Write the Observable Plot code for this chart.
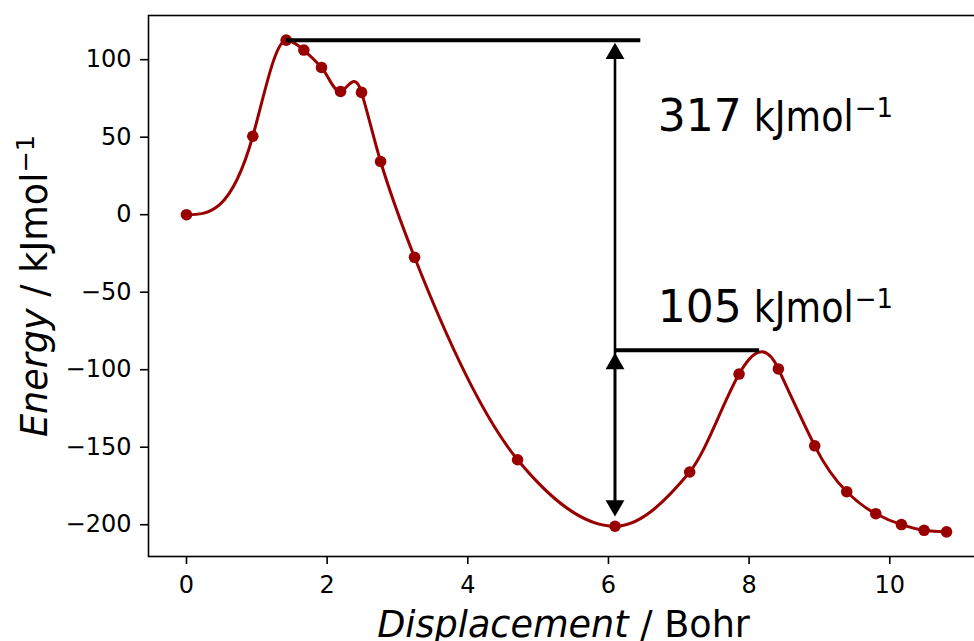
<!DOCTYPE html>
<html><head><meta charset="utf-8">
<script src="https://cdn.jsdelivr.net/npm/d3@7"></script>
<script src="https://cdn.jsdelivr.net/npm/@observablehq/plot@0.6"></script>
<style>
html,body{margin:0;padding:0;background:#fff;}
#chart svg{display:block;}
</style>
</head><body><div id="chart"></div>
<script>
// ---- data ----
const displacement = [0, 0.943, 1.418, 1.669, 1.920, 2.191, 2.489, 2.760, 3.243, 4.708, 6.093, 7.155, 7.857, 8.416, 8.933, 9.388, 9.801, 10.166, 10.488, 10.807];
const energy = [0, 50.6, 112.6, 106.2, 95.0, 79.5, 78.9, 34.3, -27.5, -158.1, -201.0, -166.0, -102.8, -99.5, -149.1, -178.7, -192.9, -199.9, -203.6, -204.6];
// tangent slope dE/dx (kJ/mol per Bohr) of the drawn curve at each image
const slope = [0, 160, 0, -40, -50, 10, -150, -150, -115, -55, 0, 55, 80, -98, -90, -45, -24, -14, -7, -3];
const xTicks = [0, 2, 4, 6, 8, 10];
const yTicks = [-200, -150, -100, -50, 0, 50, 100];

// annotation values (data units)
const levelX1 = [1.418, 6.093];
const levelX2 = [6.46, 8.15];
const levelY = [112.6, -87.5];
const arrowX = 6.093;
const arrowBottom = -201.0;
const arrowTops = [112.6, -87.5];
const barrierValues = ["317", "105"];
const barrierLabelX = 6.70;
const barrierLabelY = [53.8, -69.5];
const unitText = "kJmol";
const unitSup = "\u22121";
const xLabelItalic = "Displacement";
const xLabelRest = " / Bohr";
const yLabelItalic = "Energy";
const yLabelRest = " / kJmol";

// ---- tables built from the arrays ----
const points = displacement.map((x, i) => ({x, y: energy[i]}));
const levels = levelY.map((y, i) => ({x1: levelX1[i], x2: levelX2[i], y}));
const spans = arrowTops.map(t => ({x: arrowX, top: t, bottom: arrowBottom}));
const headsUp = arrowTops.map(t => ({x: arrowX, y: t}));
const headsDown = [{x: arrowX, y: arrowBottom}];
const labels = barrierValues.map((v, i) => ({x: barrierLabelX, y: barrierLabelY[i], value: v}));

// cubic Hermite curve through the images using the tangent slopes above
function hermiteCurve(context) {
  let xs, ys;
  return {
    areaStart() {}, areaEnd() {},
    lineStart() { xs = []; ys = []; },
    point(x, y) { xs.push(+x); ys.push(+y); },
    lineEnd() {
      const n = xs.length;
      if (!n) return;
      context.moveTo(xs[0], ys[0]);
      // pixel-per-unit factors derived from the projected points themselves
      const ax = (xs[n - 1] - xs[0]) / (displacement[n - 1] - displacement[0]);
      let j = 1; while (j < n - 1 && energy[j] === energy[0]) j++;
      const ay = (ys[j] - ys[0]) / (energy[j] - energy[0]);
      const k = slope.map(s => s * ay / ax);
      for (let i = 0; i < n - 1; i++) {
        const h = xs[i + 1] - xs[i];
        context.bezierCurveTo(xs[i] + h / 3, ys[i] + k[i] * h / 3,
                              xs[i + 1] - h / 3, ys[i + 1] - k[i + 1] * h / 3,
                              xs[i + 1], ys[i + 1]);
      }
    }
  };
}

const red = "#990000";
const font = "DejaVu Sans";

const chart = Plot.plot({
  width: 974,
  height: 641,
  marginLeft: 148,
  marginTop: 15,
  marginBottom: 85,
  marginRight: -10,
  x: {domain: [-0.54, 11.347]},
  y: {domain: [-220.5, 128.5]},
  style: {fontFamily: font, fontSize: "24px", color: "black", background: "white", overflow: "hidden"},
  marks: [
    Plot.axisX({ticks: xTicks, tickSize: 8, tickPadding: 11, fontSize: 24, label: null, strokeWidth: 1.6}),
    Plot.axisY({ticks: yTicks, tickSize: 8, tickPadding: 9, fontSize: 24, label: null, strokeWidth: 1.6}),
    Plot.line(points, {x: "x", y: "y", curve: hermiteCurve, stroke: red, strokeWidth: 3}),
    Plot.dot(points, {x: "x", y: "y", r: 5.8, fill: red, stroke: "none"}),
    Plot.ruleY(levels, {y: "y", x1: "x1", x2: "x2", stroke: "black", strokeWidth: 4}),
    Plot.ruleX(spans, {x: "x", y1: "top", y2: "bottom", stroke: "black", strokeWidth: 2.6, insetTop: 12, insetBottom: 15}),
    Plot.dot(headsUp, {x: "x", y: "y", symbol: "triangle", r: 7, fill: "black", stroke: "none", dy: 13.4}),
    Plot.dot(headsDown, {x: "x", y: "y", symbol: "triangle", r: 7, rotate: 180, fill: "black", stroke: "none", dy: -20.6}),
    Plot.text(labels, {x: "x", y: "y", text: "value", textAnchor: "start", lineAnchor: "bottom", fontSize: 44, fill: "black"}),
    Plot.text(labels, {x: "x", y: "y", text: () => unitText, dx: 96, textAnchor: "start", lineAnchor: "bottom", fontSize: 42, fill: "black", className: "unit-text"}),
    Plot.text(labels, {x: "x", y: "y", text: () => unitSup, dx: 197, dy: -14, textAnchor: "start", lineAnchor: "bottom", fontSize: 26, fill: "black"}),
    Plot.text([xLabelItalic + xLabelRest], {text: d => d, frameAnchor: "bottom", textAnchor: "middle", dy: 80.7, dx: -3, lineAnchor: "bottom", fontSize: 36.6, fill: "black", className: "x-label"}),
    Plot.text([yLabelItalic + yLabelRest + unitSup], {text: d => d, frameAnchor: "left", textAnchor: "middle", rotate: -90, dx: -102, lineAnchor: "bottom", fontSize: 36.6, fill: "black", className: "y-label"}),
    Plot.frame({stroke: "black", strokeWidth: 1.6})
  ]
});

document.getElementById("chart").appendChild(chart);

// squeeze unit text to the reference width
chart.querySelectorAll(".unit-text text").forEach(t => {
  t.setAttribute("textLength", 100);
  t.setAttribute("lengthAdjust", "spacingAndGlyphs");
});
// mixed-style axis labels
function styled(sel, parts) {
  const t = chart.querySelector(sel + " text");
  if (!t) return;
  t.textContent = "";
  for (const p of parts) {
    const s = document.createElementNS("http://www.w3.org/2000/svg", "tspan");
    s.textContent = p.text;
    if (p.italic) s.setAttribute("font-style", "italic");
    if (p.size) s.setAttribute("font-size", p.size);
    if (p.dy) s.setAttribute("dy", p.dy);
    t.appendChild(s);
  }
}
styled(".x-label", [{text: xLabelItalic, italic: true}, {text: xLabelRest}]);
styled(".y-label", [{text: yLabelItalic, italic: true}, {text: yLabelRest}, {text: unitSup, size: 25.6, dy: -13}]);
</script>
</body></html>
